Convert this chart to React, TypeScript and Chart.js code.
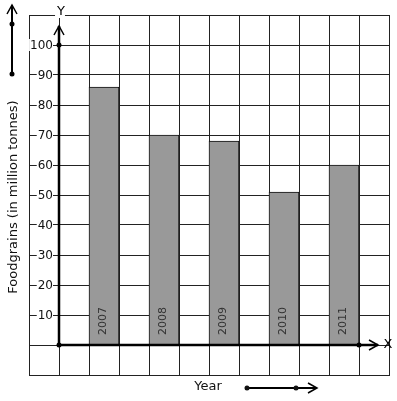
import React, { useEffect, useRef } from "react";
import { Chart, registerables } from "chart.js";

Chart.register(...registerables);

// ---- data ----
const years: number[] = [2007, 2008, 2009, 2010, 2011];
const yearLabels: string[] = ["2007", "2008", "2009", "2010", "2011"];
const foodgrains: number[] = [86, 70, 68, 51, 60];
const yTickValues: number[] = [10, 20, 30, 40, 50, 60, 70, 80, 90, 100];
const yAxisTitle = "Foodgrains (in million tonnes)";
const xAxisTitle = "Year";

// ---- scale ranges (grid of half-year by 10 units) ----
const X_MIN = 2005.75;
const X_MAX = 2011.75;
const X_STEP = 0.5;
const X_ORIGIN = 2006.25;
const Y_MIN = -10;
const Y_MAX = 110;
const Y_STEP = 10;

const FONT = "'DejaVu Sans', sans-serif";

function chevron(ctx: CanvasRenderingContext2D, tx: number, ty: number, dir: "up" | "right") {
  ctx.beginPath();
  if (dir === "up") {
    ctx.moveTo(tx - 5, ty + 9);
    ctx.lineTo(tx, ty);
    ctx.lineTo(tx + 5, ty + 9);
  } else {
    ctx.moveTo(tx - 9, ty - 5);
    ctx.lineTo(tx, ty);
    ctx.lineTo(tx - 9, ty + 5);
  }
  ctx.stroke();
}

function dot(ctx: CanvasRenderingContext2D, x: number, y: number, r = 2.5) {
  ctx.beginPath();
  ctx.arc(x, y, r, 0, Math.PI * 2);
  ctx.fill();
}

const overlay = {
  id: "overlay",
  afterDatasetsDraw(chart: any) {
    const { ctx } = chart;
    const xs = chart.scales.x;
    const ys = chart.scales.y;
    const ox = Math.round(xs.getPixelForValue(X_ORIGIN));
    const oy = Math.round(ys.getPixelForValue(0));
    ctx.save();

    // year labels inside bars
    const meta = chart.getDatasetMeta(0);
    ctx.font = `11px ${FONT}`;
    ctx.fillStyle = "#333";
    ctx.textAlign = "left";
    ctx.textBaseline = "middle";
    meta.data.forEach((el: any, i: number) => {
      ctx.save();
      ctx.translate(el.x - 1, oy - 10);
      ctx.rotate(-Math.PI / 2);
      ctx.fillText(yearLabels[i], 0, 0);
      ctx.restore();
    });

    // y tick labels with white background
    ctx.font = `12px ${FONT}`;
    ctx.textAlign = "right";
    ctx.textBaseline = "middle";
    const rightX = ox - 6;
    yTickValues.forEach((v) => {
      const py = ys.getPixelForValue(v);
      const t = String(v);
      const w = ctx.measureText(t).width;
      ctx.fillStyle = "#fff";
      ctx.fillRect(rightX - w - 1, py - 6, w + 1, 12);
      ctx.fillStyle = "#111";
      ctx.fillText(t, rightX, py + 0.5);
    });

    // axes
    ctx.strokeStyle = "#000";
    ctx.fillStyle = "#000";
    ctx.lineWidth = 2.5;
    const yTip = ys.getPixelForValue(Y_MAX) + 11;
    const xTip = xs.getPixelForValue(X_MAX) - 11;
    ctx.beginPath();
    ctx.moveTo(ox, oy);
    ctx.lineTo(ox, yTip);
    ctx.stroke();
    ctx.beginPath();
    ctx.moveTo(ox, oy);
    ctx.lineTo(xTip, oy);
    ctx.stroke();
    ctx.lineWidth = 1.5;
    chevron(ctx, ox, yTip, "up");
    chevron(ctx, xTip, oy, "right");
    dot(ctx, ox, oy);
    dot(ctx, ox, ys.getPixelForValue(100));
    dot(ctx, xs.getPixelForValue(2011.25), oy);

    // axis letters
    ctx.font = `13px ${FONT}`;
    ctx.textAlign = "center";
    ctx.textBaseline = "middle";
    let w = ctx.measureText("Y").width;
    ctx.fillStyle = "#fff";
    ctx.fillRect(ox + 1 - w / 2 - 1, 7, w + 2, 11);
    ctx.fillStyle = "#000";
    ctx.fillText("Y", ox + 2, 12);
    ctx.fillText("X", xs.getPixelForValue(X_MAX) - 1, oy);

    // left title + arrow
    ctx.save();
    ctx.translate(14, 197);
    ctx.rotate(-Math.PI / 2);
    ctx.font = `13px ${FONT}`;
    ctx.fillStyle = "#111";
    ctx.textAlign = "center";
    ctx.textBaseline = "middle";
    ctx.fillText(yAxisTitle, 0, 0);
    ctx.restore();

    ctx.strokeStyle = "#000";
    ctx.fillStyle = "#000";
    ctx.lineWidth = 2;
    ctx.beginPath();
    ctx.moveTo(12, 74);
    ctx.lineTo(12, 5);
    ctx.stroke();
    ctx.lineWidth = 1.5;
    chevron(ctx, 12, 5, "up");
    dot(ctx, 12, 24);
    dot(ctx, 12, 74);

    // bottom title + arrow
    ctx.font = `13px ${FONT}`;
    ctx.fillStyle = "#111";
    ctx.textAlign = "center";
    ctx.textBaseline = "middle";
    ctx.fillText(xAxisTitle, 208, 387);
    ctx.lineWidth = 2;
    ctx.beginPath();
    ctx.moveTo(247, 388);
    ctx.lineTo(316, 388);
    ctx.stroke();
    ctx.lineWidth = 1.5;
    chevron(ctx, 317, 388, "right");
    dot(ctx, 247, 388);
    dot(ctx, 296, 388);

    ctx.restore();
  },
};

export default function App() {
  const ref = useRef<HTMLCanvasElement | null>(null);
  useEffect(() => {
    if (!ref.current) return;
    const chart = new Chart(ref.current, {
      type: "bar",
      data: {
        datasets: [
          {
            data: years.map((yr, i) => ({ x: yr, y: foodgrains[i] })),
            backgroundColor: "#999999",
            borderColor: "#111",
            borderWidth: 1,
            barPercentage: 1,
            categoryPercentage: 1,
          },
        ],
      },
      options: {
        responsive: false,
        animation: false,
        layout: { padding: { left: 29, top: 15, right: 8, bottom: 26 } },
        plugins: { legend: { display: false }, tooltip: { enabled: false } },
        scales: {
          x: {
            type: "linear",
            offset: false,
            min: X_MIN,
            max: X_MAX,
            afterBuildTicks: (s: any) => {
              const t: any[] = [];
              for (let v = X_MIN; v <= X_MAX + 1e-9; v += X_STEP) t.push({ value: v });
              s.ticks = t;
            },
            ticks: { display: false },
            grid: { color: "#222", lineWidth: 1, drawTicks: false, offset: false },
            border: { color: "#222" },
          },
          y: {
            type: "linear",
            min: Y_MIN,
            max: Y_MAX,
            ticks: { display: false, stepSize: Y_STEP },
            grid: { color: "#222", lineWidth: 1, drawTicks: false },
            border: { color: "#222" },
          },
        },
      } as any,
      plugins: [overlay],
    });
    return () => chart.destroy();
  }, []);
  return (
    <div style={{ position: "absolute", left: 0, top: 0, width: 397, height: 401, background: "#fff" }}>
      <canvas ref={ref} width={397} height={401} style={{ display: "block" }} />
    </div>
  );
}
